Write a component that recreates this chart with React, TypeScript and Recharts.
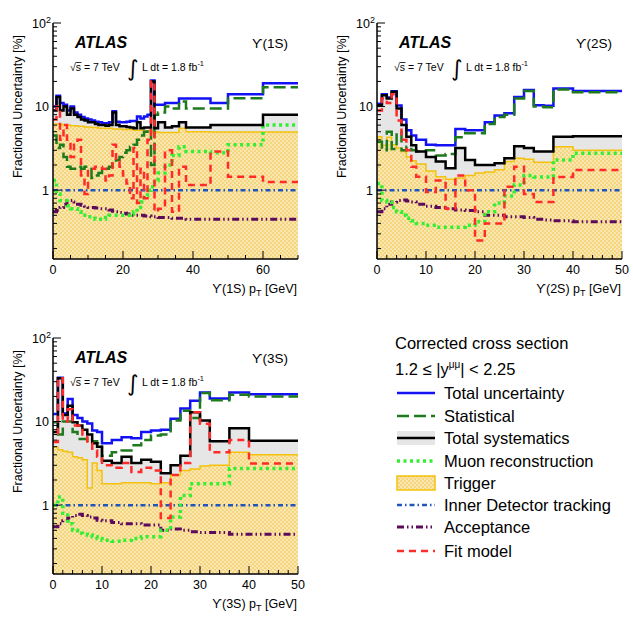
import React from 'react';
import { ComposedChart, Line, Area, XAxis, YAxis } from 'recharts';

// ---- bin edges [GeV] ----
const edges1S = [0, 1, 2, 3, 4, 5, 6, 7, 8, 9, 10, 11, 12, 13, 14, 15, 16, 17, 18, 19, 20, 21, 22, 23, 24, 25, 26, 27, 28, 29, 30, 32, 34, 36, 38, 45, 50, 60, 70];
const edges2S = [0, 1, 2, 3, 4, 5, 6, 7, 8, 10, 12, 14, 16, 18, 20, 22, 24, 26, 28, 30, 32, 34, 36, 40, 50];
const edges3S = [0, 1, 2, 3, 4, 5, 6, 7, 8, 9, 10, 12, 14, 16, 18, 20, 22, 24, 26, 28, 30, 32, 36, 40, 50];

// ---- Upsilon(1S), one value per bin [%] ----
const total1S = [10, 13.5, 11, 10.5, 9, 10, 8.5, 8, 7.5, 7.2, 7, 6.8, 6.6, 6.5, 6.3, 6.3, 6.5, 8.8, 6.6, 6.5, 6.5, 6.6, 6.7, 6.7, 7.6, 7.2, 7.6, 8, 20.5, 10.5, 10.5, 11, 11, 12.5, 12.5, 11, 14, 19];
const stat1S = [4.5, 3.2, 3.5, 2.5, 1.9, 1.8, 1.8, 1.9, 1.8, 1.9, 1.9, 1.4, 1.5, 1.6, 1.7, 1.8, 1.9, 2.1, 2.3, 2.5, 2.8, 3, 3.3, 3.5, 4, 4.5, 5, 5.5, 2, 8, 8.5, 10, 9.5, 11.5, 9.5, 9.5, 12.6, 17];
const syst1S = [9, 13, 9, 10, 8, 9.5, 8, 7.5, 7, 6.8, 6.5, 6.5, 6.2, 6, 6, 5.9, 6, 8.5, 6, 5.8, 5.8, 5.7, 5.6, 5.5, 6.5, 5.5, 5.6, 5.6, 20, 5.5, 6.5, 5.6, 5.8, 6.5, 5.6, 6, 6, 8];
const muon1S = [1.3, 0.9, 0.75, 0.75, 0.65, 0.6, 0.6, 0.55, 0.5, 0.5, 0.48, 0.46, 0.45, 0.45, 0.45, 0.47, 0.5, 0.5, 0.5, 0.5, 0.5, 0.5, 0.52, 0.55, 0.62, 0.72, 0.85, 1, 1.1, 1.3, 1.6, 2, 2.6, 3.3, 2.9, 2.8, 3.5, 6];
const trig1S = [6.2, 6.2, 6.1, 6, 6, 5.9, 5.9, 5.8, 5.8, 5.7, 5.7, 5.6, 5.6, 5.5, 5.5, 5.5, 5.5, 5.4, 5.4, 5.4, 5.3, 5.3, 5.3, 5.2, 5.2, 5.2, 5.1, 5.1, 5.1, 5, 4.9, 4.9, 4.9, 5.5, 5, 4.95, 4.95, 4.95];
const idt1S = [1, 1, 1, 1, 1, 1, 1, 1, 1, 1, 1, 1, 1, 1, 1, 1, 1, 1, 1, 1, 1, 1, 1, 1, 1, 1, 1, 1, 1, 1, 1, 1, 1, 1, 1, 1, 1, 1];
const acc1S = [0.55, 0.57, 0.62, 0.68, 0.75, 0.75, 0.72, 0.68, 0.66, 0.64, 0.62, 0.62, 0.61, 0.6, 0.6, 0.6, 0.58, 0.56, 0.55, 0.54, 0.53, 0.52, 0.52, 0.5, 0.5, 0.5, 0.49, 0.49, 0.48, 0.48, 0.47, 0.47, 0.46, 0.46, 0.45, 0.45, 0.45, 0.45];
const fit1S = [7, 10, 4, 6, 4, 2.5, 3.5, 4, 1.5, 0.9, 1.8, 1.8, 1.9, 1.9, 1.8, 1.3, 1.5, 3.5, 2.2, 1.9, 1.5, 1.2, 0.8, 3.2, 0.7, 1.8, 0.8, 4, 20, 0.55, 0.6, 3, 0.55, 1.9, 1.15, 2.9, 1.45, 1.25];

// ---- Upsilon(2S) ----
const total2S = [10.8, 14, 12.8, 15.3, 10.3, 7, 5.2, 4.5, 4, 3.5, 3.45, 3.45, 5.4, 5.2, 5.2, 6.5, 7.8, 8.3, 13, 15.8, 10.4, 10.2, 16.5, 15.4];
const stat2S = [3.8, 3, 5, 3.1, 5, 3, 3.3, 3, 2.9, 3, 2.6, 2.7, 4.3, 4.8, 4.8, 6.2, 7.5, 8, 12.5, 15.4, 10, 9.8, 16, 14.8];
const syst2S = [10.4, 13.7, 12.5, 15, 9.5, 6, 4.35, 3.45, 2.9, 2.5, 2.2, 1.83, 3.2, 2.3, 2, 2, 2.1, 2.4, 3.35, 3.2, 2.9, 2.9, 4.35, 4.4];
const muon2S = [1.2, 0.75, 0.72, 0.62, 0.55, 0.5, 0.46, 0.43, 0.4, 0.38, 0.36, 0.36, 0.36, 0.38, 0.42, 0.55, 0.7, 0.85, 1.15, 1.5, 1.44, 1.44, 2.3, 2.77];
const trig2S = [4.35, 3.45, 4.3, 3.5, 3.2, 2.9, 2.5, 2.25, 2.05, 1.7, 1.45, 1.35, 1.4, 1.5, 1.6, 1.65, 1.75, 2.2, 2.4, 2.35, 2.15, 2.15, 3.3, 3];
const idt2S = [1, 1, 1, 1, 1, 1, 1, 1, 1, 1, 1, 1, 1, 1, 1, 1, 1, 1, 1, 1, 1, 1, 1, 1];
const acc2S = [0.55, 0.6, 0.68, 0.72, 0.75, 0.76, 0.74, 0.72, 0.68, 0.64, 0.62, 0.6, 0.58, 0.57, 0.55, 0.5, 0.5, 0.48, 0.48, 0.47, 0.45, 0.44, 0.43, 0.42];
const fit2S = [9, 12.5, 11, 14, 6.8, 4, 3, 1.9, 1.45, 0.95, 1.3, 0.6, 1.5, 1, 0.25, 0.4, 0.4, 1.1, 1.9, 0.9, 0.72, 0.72, 1.44, 1.74];

// ---- Upsilon(3S) ----
const total3S = [12.3, 33.5, 12.5, 18.6, 12, 11, 10, 9.5, 7.8, 7.5, 5.5, 6, 6.5, 6.3, 7.5, 7.8, 8, 10.8, 14.3, 17.8, 22.3, 18.9, 22.3, 21.3];
const stat3S = [9.8, 7, 10, 10, 7.5, 6.2, 6.2, 5.5, 5.8, 5.5, 3.9, 4.3, 4.5, 5.2, 6, 6.8, 7, 10.3, 13.5, 11, 22, 18, 21, 20];
const syst3S = [7.5, 33, 12, 15.5, 9.8, 9, 8, 7, 5.5, 5, 3.4, 3.2, 3.8, 3.2, 3.5, 3.3, 2.4, 3, 3.9, 12.9, 10.3, 5.8, 8.3, 5.9];
const muon3S = [1, 1.25, 0.8, 0.6, 0.5, 0.46, 0.45, 0.44, 0.42, 0.4, 0.38, 0.37, 0.38, 0.4, 0.42, 0.42, 0.5, 0.72, 1.3, 1.8, 1.8, 1.8, 2.75, 2.75];
const trig3S = [5, 4.6, 4.4, 4.3, 3.8, 3.7, 3.5, 1.6, 3.2, 2.6, 1.8, 1.8, 1.85, 1.85, 1.85, 1.8, 1.85, 2.3, 2.6, 2.7, 2.95, 3, 4.3, 4];
const idt3S = [1, 1, 1, 1, 1, 1, 1, 1, 1, 1, 1, 1, 1, 1, 1, 1, 1, 1, 1, 1, 1, 1, 1, 1];
const acc3S = [0.55, 0.6, 0.65, 0.7, 0.75, 0.78, 0.75, 0.72, 0.7, 0.66, 0.65, 0.62, 0.6, 0.6, 0.58, 0.58, 0.5, 0.52, 0.5, 0.48, 0.47, 0.47, 0.45, 0.45];
const fit3S = [5.7, 33, 10, 14, 9, 9, 7, 5.5, 4.5, 3.8, 3, 2.8, 3.2, 2.5, 2.8, 2.6, 0.7, 2.3, 3.2, 12.9, 9.4, 4.3, 6, 3.15];

// ---- axis ticks ----
const yTicks = [0.2, 0.3, 0.4, 0.5, 0.6, 0.7, 0.8, 0.9, 1, 2, 3, 4, 5, 6, 7, 8, 9, 10, 20, 30, 40, 50, 60, 70, 80, 90, 100];
const xTicks1S = [0, 5, 10, 15, 20, 25, 30, 35, 40, 45, 50, 55, 60, 65, 70];
const xTicks50 = [0, 2, 4, 6, 8, 10, 12, 14, 16, 18, 20, 22, 24, 26, 28, 30, 32, 34, 36, 38, 40, 42, 44, 46, 48, 50];

const FONT = '"Liberation Sans", Arial, Helvetica, sans-serif';
const W = 310;
const H = 310;
const PL = 53;
const PR = 298;
const PT = 23;
const PB = 259;
const Y_MIN = 0.15;
const Y_MAX = 100;

const C = {
  total: '#1212f5',
  stat: '#1d7a1d',
  syst: '#000000',
  muon: '#33ee33',
  trig: '#f4c20d',
  idt: '#2255bb',
  acc: '#5c0a5c',
  fit: '#ff2a2a',
};

const DASH = {
  stat: '12 5',
  muon: '3 3.5',
  idt: '5 3 1.5 3',
  acc: '7 3 1.5 3 1.5 3',
  fit: '7 5',
};

// step histogram rows: one point per edge, last edge repeats the last bin
function stepRows(edges: number[], cols: Record<string, number[]>) {
  const rows: Record<string, number>[] = [];
  for (let i = 0; i < edges.length; i++) {
    const j = Math.min(i, edges.length - 2);
    const row: Record<string, number> = { pt: edges[i] };
    for (const k of Object.keys(cols)) row[k] = cols[k][j];
    rows.push(row);
  }
  return rows;
}

const rows1S = stepRows(edges1S, { total: total1S, stat: stat1S, syst: syst1S, muon: muon1S, trig: trig1S, idt: idt1S, acc: acc1S, fit: fit1S });
const rows2S = stepRows(edges2S, { total: total2S, stat: stat2S, syst: syst2S, muon: muon2S, trig: trig2S, idt: idt2S, acc: acc2S, fit: fit2S });
const rows3S = stepRows(edges3S, { total: total3S, stat: stat3S, syst: syst3S, muon: muon3S, trig: trig3S, idt: idt3S, acc: acc3S, fit: fit3S });

const isDecade = (v: number) => v === 1 || v === 10 || v === 100;

const LeftTick = (p: any) => {
  const v = p.payload.value;
  const major = isDecade(v);
  return (
    <g>
      <line x1={PL} x2={PL + (major ? 8 : 4)} y1={p.y} y2={p.y} stroke="#000" strokeWidth={1} />
      {major && (
        <text x={v === 100 ? PL - 2 : PL - 4} y={p.y + 4.5} textAnchor="end" fontSize={12.5} fontFamily={FONT} fill="#000">
          {v === 100 ? (
            <>
              10<tspan dy={-5} fontSize={9}>2</tspan>
            </>
          ) : (
            v
          )}
        </text>
      )}
    </g>
  );
};

const RightTick = (p: any) => {
  const len = isDecade(p.payload.value) ? 8 : 4;
  return <line x1={PR - len} x2={PR} y1={p.y} y2={p.y} stroke="#000" strokeWidth={1} />;
};

const makeBottomTick = (step: number) => (p: any) => {
  const v = p.payload.value;
  const major = v % step === 0;
  return (
    <g>
      <line x1={p.x} x2={p.x} y1={PB} y2={PB - (major ? 8 : 4)} stroke="#000" strokeWidth={1} />
      {major && (
        <text x={p.x} y={PB + 15} textAnchor="middle" fontSize={12.5} fontFamily={FONT} fill="#000">
          {v}
        </text>
      )}
    </g>
  );
};

const makeTopTick = (step: number) => (p: any) => {
  const len = p.payload.value % step === 0 ? 8 : 4;
  return <line x1={p.x} x2={p.x} y1={PT} y2={PT + len} stroke="#000" strokeWidth={1} />;
};

const frame = { stroke: '#000', strokeWidth: 1.5 };

function Panel({ left, top, rows, xMax, xTicks, step, state }: any) {
  return (
    <div style={{ position: 'absolute', left, top, width: W, height: H }}>
      <ComposedChart width={W} height={H} data={rows} margin={{ top: PT, right: W - PR, bottom: H - PB - 40, left: 0 }}>
        <XAxis dataKey="pt" type="number" domain={[0, xMax]} ticks={xTicks} interval={0} allowDataOverflow height={40} tickLine={false} axisLine={frame} tick={makeBottomTick(step)} />
        <XAxis xAxisId="top" orientation="top" type="number" domain={[0, xMax]} ticks={xTicks} interval={0} allowDataOverflow height={0} tickLine={false} axisLine={frame} tick={makeTopTick(step)} />
        <YAxis type="number" scale="log" domain={[Y_MIN, Y_MAX]} ticks={yTicks} interval={0} allowDataOverflow width={PL} tickLine={false} axisLine={frame} tick={LeftTick} />
        <YAxis yAxisId="right" orientation="right" type="number" scale="log" domain={[Y_MIN, Y_MAX]} ticks={yTicks} interval={0} allowDataOverflow width={0} tickLine={false} axisLine={frame} tick={RightTick} />

        <Area dataKey="syst" type="stepAfter" stroke="none" fill="#e6e6e6" fillOpacity={1} baseValue={Y_MIN} dot={false} activeDot={false} isAnimationActive={false} />
        <Area dataKey="trig" type="stepAfter" stroke={C.trig} strokeWidth={1.5} fill="url(#trigFill)" fillOpacity={1} baseValue={Y_MIN} dot={false} activeDot={false} isAnimationActive={false} />

        <Line dataKey="idt" type="stepAfter" stroke={C.idt} strokeWidth={2.5} strokeDasharray={DASH.idt} dot={false} activeDot={false} isAnimationActive={false} />
        <Line dataKey="acc" type="stepAfter" stroke={C.acc} strokeWidth={3} strokeDasharray={DASH.acc} dot={false} activeDot={false} isAnimationActive={false} />
        <Line dataKey="muon" type="stepAfter" stroke={C.muon} strokeWidth={3.5} strokeDasharray={DASH.muon} dot={false} activeDot={false} isAnimationActive={false} />
        <Line dataKey="total" type="stepAfter" stroke={C.total} strokeWidth={2.5} dot={false} activeDot={false} isAnimationActive={false} />
        <Line dataKey="stat" type="stepAfter" stroke={C.stat} strokeWidth={2.5} strokeDasharray={DASH.stat} dot={false} activeDot={false} isAnimationActive={false} />
        <Line dataKey="syst" type="stepAfter" stroke={C.syst} strokeWidth={2.5} dot={false} activeDot={false} isAnimationActive={false} />
        <Line dataKey="fit" type="stepAfter" stroke={C.fit} strokeWidth={2.5} strokeDasharray={DASH.fit} dot={false} activeDot={false} isAnimationActive={false} />
      </ComposedChart>

      <svg width={W} height={H} style={{ position: 'absolute', left: 0, top: 0, pointerEvents: 'none' }} fontFamily={FONT}>
        <text x={75} y={48} fontSize={16} fontWeight="bold" fontStyle="italic">ATLAS</text>
        <text x={288} y={48} fontSize={13.5} textAnchor="end">ϒ({state})</text>
        <text x={70} y={71} fontSize={10.5}>√s = 7 TeV</text>
        <line x1={75.5} x2={81.5} y1={62.5} y2={62.5} stroke="#000" strokeWidth={0.8} />
        <text x={127} y={76} fontSize={22} fontFamily="DejaVu Sans">∫</text>
        <text x={142} y={71} fontSize={10.5}>
          L dt = 1.8 fb<tspan dy={-5} fontSize={7.5}>-1</tspan>
        </text>
        <text transform="translate(22,35) rotate(-90)" textAnchor="end" fontSize={12.5}>Fractional Uncertainty [%]</text>
        <text x={297} y={PB + 34} textAnchor="end" fontSize={12.5}>
          ϒ({state}) p<tspan dy={3} fontSize={9}>T</tspan>
          <tspan dy={-3}> [GeV]</tspan>
        </text>
      </svg>
    </div>
  );
}

const LEG_X1 = 17;
const LEG_X2 = 55;
const LEG_TX = 64;

function LegendBox() {
  const rowsY = [73, 96, 118, 141, 163, 185, 207, 231];
  const labels = ['Total uncertainty', 'Statistical', 'Total systematics', 'Muon reconstruction', 'Trigger', 'Inner Detector tracking', 'Acceptance', 'Fit model'];
  return (
    <svg width={253} height={250} style={{ position: 'absolute', left: 380, top: 320 }} fontFamily={FONT}>
      <defs>
        <pattern id="trigFill" width={4} height={4} patternUnits="userSpaceOnUse">
          <rect width={4} height={4} fill="#fae7b0" />
          <rect width={2} height={2} fill="#f5d680" />
          <rect x={2} y={2} width={2} height={2} fill="#f5d680" />
        </pattern>
      </defs>
      <text x={15} y={29} fontSize={16.5}>Corrected cross section</text>
      <text x={15} y={55} fontSize={16.5}>
        1.2 ≤ |y<tspan dy={-7} fontSize={10}>μμ</tspan>
        <tspan dy={7}>| &lt; 2.25</tspan>
      </text>

      <line x1={LEG_X1} x2={LEG_X2} y1={rowsY[0]} y2={rowsY[0]} stroke={C.total} strokeWidth={2.5} />
      <line x1={LEG_X1} x2={LEG_X2} y1={rowsY[1]} y2={rowsY[1]} stroke={C.stat} strokeWidth={2.5} strokeDasharray={DASH.stat} />
      <rect x={LEG_X1} y={rowsY[2] - 7} width={LEG_X2 - LEG_X1} height={14} fill="#e6e6e6" />
      <line x1={LEG_X1} x2={LEG_X2} y1={rowsY[2]} y2={rowsY[2]} stroke={C.syst} strokeWidth={2.5} />
      <line x1={LEG_X1} x2={LEG_X2} y1={rowsY[3]} y2={rowsY[3]} stroke={C.muon} strokeWidth={3.5} strokeDasharray={DASH.muon} />
      <rect x={LEG_X1} y={rowsY[4] - 7} width={LEG_X2 - LEG_X1} height={14} fill="url(#trigFill)" stroke={C.trig} strokeWidth={1.5} />
      <line x1={LEG_X1} x2={LEG_X2} y1={rowsY[5]} y2={rowsY[5]} stroke={C.idt} strokeWidth={2.5} strokeDasharray={DASH.idt} />
      <line x1={LEG_X1} x2={LEG_X2} y1={rowsY[6]} y2={rowsY[6]} stroke={C.acc} strokeWidth={3} strokeDasharray={DASH.acc} />
      <line x1={LEG_X1} x2={LEG_X2} y1={rowsY[7]} y2={rowsY[7]} stroke={C.fit} strokeWidth={2.5} strokeDasharray={DASH.fit} />

      {labels.map((t, i) => (
        <text key={t} x={LEG_TX} y={rowsY[i] + 6} fontSize={16.5}>{t}</text>
      ))}
    </svg>
  );
}

export default function App() {
  return (
    <div style={{ position: 'absolute', left: 0, top: 0, width: 633, height: 621, background: '#fff', overflow: 'hidden' }}>
      <LegendBox />
      <Panel left={0} top={0} rows={rows1S} xMax={70} xTicks={xTicks1S} step={20} state="1S" />
      <Panel left={324} top={0} rows={rows2S} xMax={50} xTicks={xTicks50} step={10} state="2S" />
      <Panel left={0} top={315} rows={rows3S} xMax={50} xTicks={xTicks50} step={10} state="3S" />
    </div>
  );
}
